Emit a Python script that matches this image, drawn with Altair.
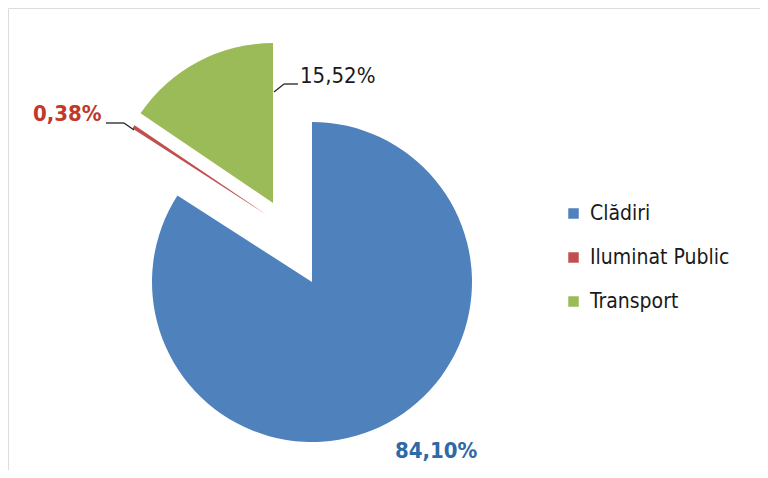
import altair as alt
import pandas as pd

categories = ["Clădiri", "Iluminat Public", "Transport"]
values = [84.10, 0.38, 15.52]
labels = ["84,10%", "0,38%", "15,52%"]
colors = ["#4F81BD", "#C0504D", "#9BBB59"]

df = pd.DataFrame({"cat": categories, "value": values, "label": labels, "order": [0, 1, 2]})

FONT = "DejaVu Sans Condensed"
M = 8  # page margin
CX, CY = 312 - M, 282 - M
R = 160

base = alt.Chart(df).transform_window(
    cum="sum(value)", sort=[alt.SortField("order")], frame=[None, 0]
).transform_joinaggregate(total="sum(value)").transform_calculate(
    t0="2*PI*(datum.cum - datum.value)/datum.total",
    t1="2*PI*datum.cum/datum.total",
    dx="datum.cat == 'Transport' ? -39 : (datum.cat == 'Iluminat Public' ? -45 : 0)",
    dy="datum.cat == 'Transport' ? -79 : (datum.cat == 'Iluminat Public' ? -67 : 0)",
).transform_calculate(
    px=f"{CX} + datum.dx",
    py=f"{CY} + datum.dy",
)

arcs = base.mark_arc(radius=R).encode(
    x=alt.X("px:Q", scale=None),
    y=alt.Y("py:Q", scale=None),
    theta=alt.Theta("t0:Q", scale=None),
    theta2="t1:Q",
    color=alt.Color(
        "cat:N",
        scale=alt.Scale(domain=categories, range=colors),
        sort=categories,
        legend=alt.Legend(
            title=None,
            orient="none",
            legendX=563 - M,
            legendY=203 - M,
            symbolType="square",
            symbolSize=110,
            symbolStrokeWidth=0,
            labelFontSize=21,
            labelFont=FONT,
            labelColor="#1a1a1a",
            rowPadding=22,
            labelOffset=6,
            padding=0,
        ),
    ),
)


def label(cat, x, y, color, weight, align="left"):
    return alt.Chart(df).transform_filter(alt.datum.cat == cat).mark_text(
        font=FONT, fontSize=22, fontWeight=weight, color=color, align=align, baseline="middle"
    ).encode(text="label:N", x=alt.value(x - M), y=alt.value(y - M))


lab_blue = label("Clădiri", 395, 451, "#2E6AA6", "bold")
lab_red = label("Iluminat Public", 33, 114, "#C0392B", "bold")
lab_green = label("Transport", 300, 76, "#1a1a1a", "normal")


def seg(x1, y1, x2, y2):
    return alt.Chart(df).transform_filter(alt.datum.order == 0).mark_rule(
        color="#222222", strokeWidth=1.3
    ).encode(
        x=alt.value(x1 - M), y=alt.value(y1 - M), x2=alt.value(x2 - M), y2=alt.value(y2 - M)
    )


leaders = [
    seg(274, 92, 284, 84), seg(284, 84, 298, 84),
    seg(106, 123, 124, 123), seg(124, 123, 134, 130),
]

chart = alt.layer(arcs, lab_blue, lab_red, lab_green, *leaders).properties(
    width=768 - 2 * M,
    height=478 - 2 * M,
    autosize=alt.AutoSizeParams(type="none"),
    padding=0,
).configure_view(stroke=None).configure(background="white")

chart.save("out.html", embed_options={"renderer": "svg", "actions": False})
